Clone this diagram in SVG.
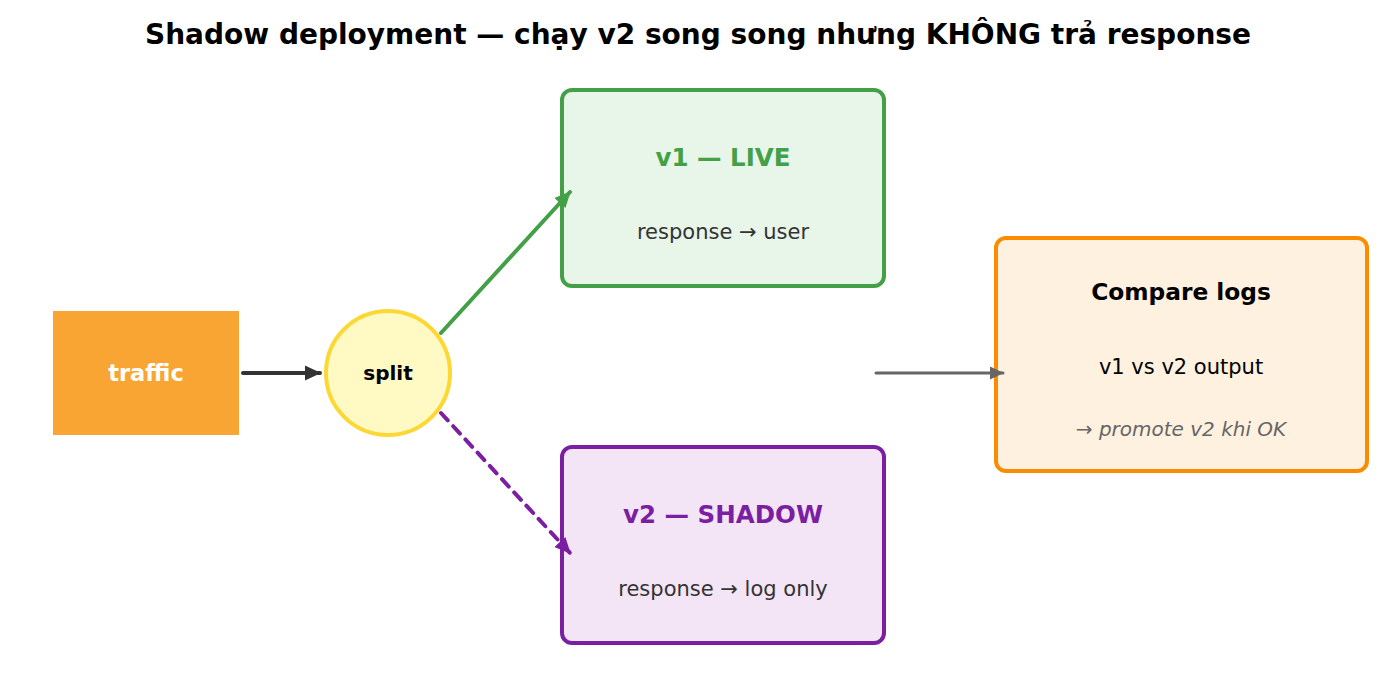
<svg xmlns="http://www.w3.org/2000/svg" width="1396" height="697" viewBox="0 0 1396 697">
<style>
text{font-family:"DejaVu Sans","Liberation Sans",sans-serif;text-anchor:middle}
.b{font-weight:bold}
.box{stroke-width:4}
</style>
<defs>
<marker id="ah-dark" viewBox="0 0 16 16" refX="15" refY="8" markerWidth="16" markerHeight="16" orient="auto" markerUnits="userSpaceOnUse"><path d="M0,0.5 L16,8 L0,15.5 z" fill="#333333"/></marker>
<marker id="ah-green" viewBox="0 0 16 16" refX="15" refY="8" markerWidth="16" markerHeight="16" orient="auto" markerUnits="userSpaceOnUse"><path d="M0,0.5 L16,8 L0,15.5 z" fill="#43A047"/></marker>
<marker id="ah-purple" viewBox="0 0 16 16" refX="15" refY="8" markerWidth="16" markerHeight="16" orient="auto" markerUnits="userSpaceOnUse"><path d="M0,0.5 L16,8 L0,15.5 z" fill="#7B1FA2"/></marker>
<marker id="ah-gray" viewBox="0 0 16 16" refX="15" refY="8" markerWidth="14" markerHeight="14" orient="auto" markerUnits="userSpaceOnUse"><path d="M0,0.5 L16,8 L0,15.5 z" fill="#666666"/></marker>
</defs>
<rect width="1396" height="697" fill="#ffffff"/>
<text x="698" y="44" class="b" font-size="28" fill="#000">Shadow deployment — chạy v2 song song nhưng KHÔNG trả response</text>
<g id="traffic">
<rect x="53" y="311" width="186" height="124" fill="#F9A533"/>
<text x="146" y="381" class="b" font-size="22.5" fill="#ffffff">traffic</text>
</g>
<g id="split">
<circle cx="388" cy="373" r="62" fill="#FFF9C4" stroke="#FDD835" stroke-width="4"/>
<text x="388" y="380" class="b" font-size="20" fill="#000">split</text>
</g>
<g id="v1">
<rect class="box" x="562" y="90" width="322" height="196" rx="10" fill="#E8F5E9" stroke="#43A047"/>
<text x="723" y="166" class="b" font-size="24.5" fill="#43A047">v1 — LIVE</text>
<text x="723" y="239" font-size="21" fill="#333333">response → user</text>
</g>
<g id="v2">
<rect class="box" x="562" y="447" width="322" height="196" rx="10" fill="#F3E5F5" stroke="#7B1FA2"/>
<text x="723" y="523" class="b" font-size="24.5" fill="#7B1FA2">v2 — SHADOW</text>
<text x="723" y="596" font-size="21" fill="#333333">response → log only</text>
</g>
<g id="compare">
<rect class="box" x="996" y="238" width="371" height="233" rx="10" fill="#FFF1DF" stroke="#FB8C00"/>
<text x="1181" y="300" class="b" font-size="23.3" fill="#000">Compare logs</text>
<text x="1181" y="374" font-size="21" fill="#000">v1 vs v2 output</text>
<text x="1181" y="436" font-size="20" font-style="italic" fill="#666666">→ promote v2 khi OK</text>
</g>
<g id="connectors" fill="none" stroke-linecap="round">
<line x1="243" y1="373" x2="320" y2="373" stroke="#333333" stroke-width="4" marker-end="url(#ah-dark)"/>
<line x1="441" y1="333" x2="570" y2="192" stroke="#43A047" stroke-width="4" marker-end="url(#ah-green)"/>
<line x1="441" y1="413" x2="570" y2="553" stroke="#7B1FA2" stroke-width="4" stroke-dasharray="10,8" marker-end="url(#ah-purple)"/>
<line x1="876" y1="373" x2="1003" y2="373" stroke="#666666" stroke-width="3" marker-end="url(#ah-gray)"/>
</g>
</svg>
